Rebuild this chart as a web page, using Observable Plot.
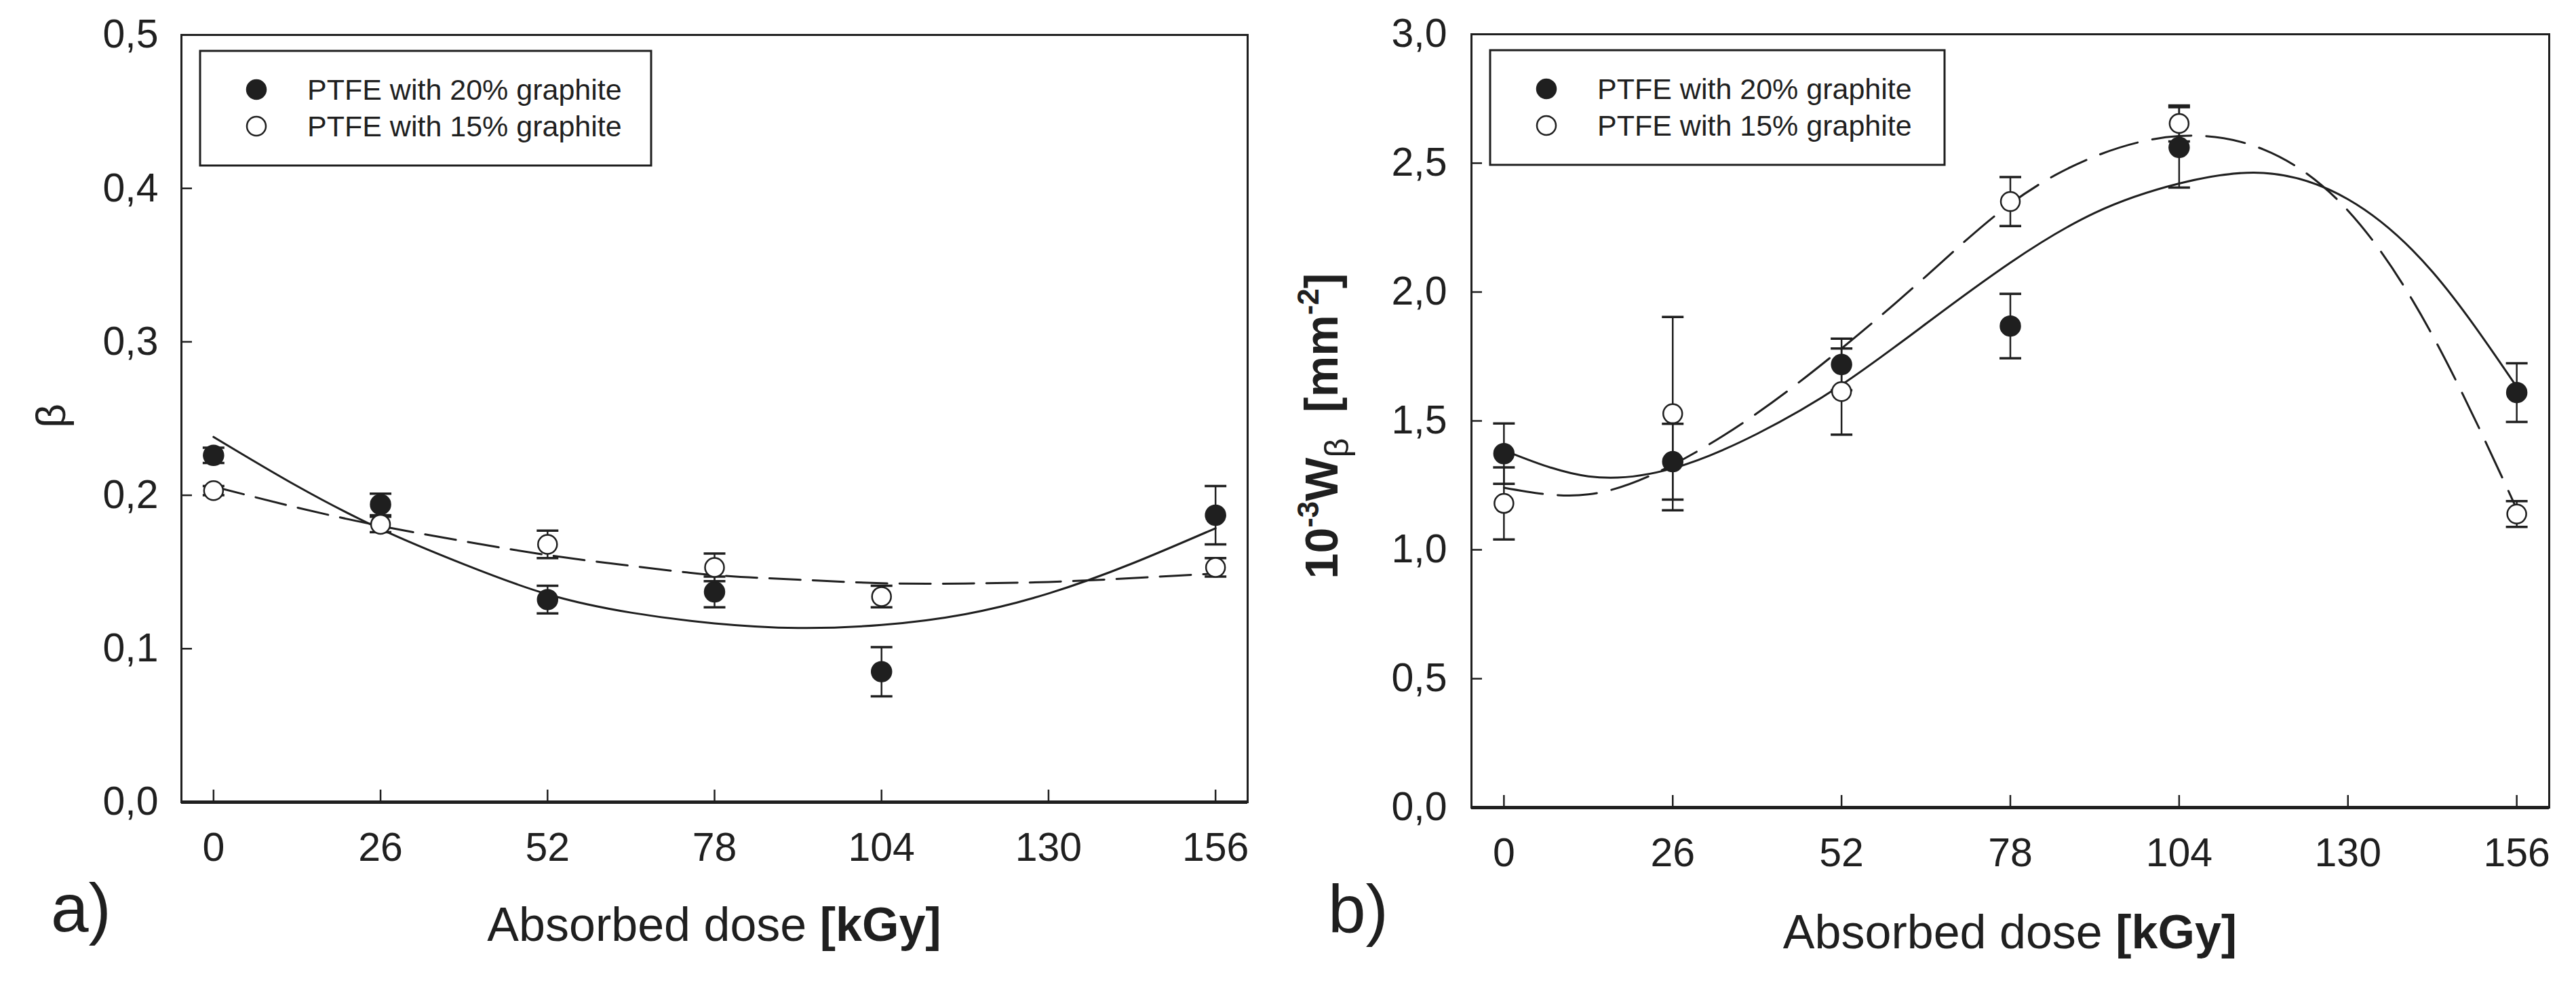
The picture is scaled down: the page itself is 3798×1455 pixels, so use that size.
<!DOCTYPE html>
<html>
<head>
<meta charset="utf-8">
<script src="https://cdn.jsdelivr.net/npm/d3@7"></script>
<script src="https://cdn.jsdelivr.net/npm/@observablehq/plot@0.6"></script>
<style>
  body { margin: 0; background: #fff; }
  #chart { display: flex; width: 3798px; height: 1455px; background: #fff; }
  #chart svg { flex: none; max-width: none; }
</style>
</head>
<body>
<div id="chart"></div>
<script>
// dosis medidas y ticks del eje x
const dose = [0, 26, 52, 78, 104, 156];
const xTicks = [0, 26, 52, 78, 104, 130, 156];

// panel a) beta
const betaG20 = [0.226, 0.194, 0.132, 0.137, 0.085, 0.187];
const betaG20Err = [0.005, 0.007, 0.009, 0.010, 0.016, 0.019];
const betaG15 = [0.203, 0.181, 0.168, 0.153, 0.134, 0.153];
const betaG15Err = [0.003, 0.005, 0.009, 0.009, 0.007, 0.006];
const betaTicks = [0, 0.1, 0.2, 0.3, 0.4, 0.5];

// panel b) 10^-3 W_beta
const wG20 = [1.373, 1.342, 1.719, 1.868, 2.561, 1.610];
const wG20Err = [0.117, 0.147, 0.100, 0.125, 0.156, 0.114];
const wG15 = [1.180, 1.528, 1.614, 2.351, 2.654, 1.139];
const wG15Err = [0.140, 0.375, 0.167, 0.095, 0.070, 0.050];
const wTicks = [0, 0.5, 1, 1.5, 2, 2.5, 3];

// curvas de ajuste
const fitDose = [0, 13, 26, 39, 52, 65, 78, 91, 104, 117, 130, 143, 156];
const fitBetaG20 = [0.238, 0.206, 0.178, 0.155, 0.1355, 0.1235, 0.1165, 0.1135, 0.1155, 0.1225, 0.136, 0.1555, 0.1785];
const fitBetaG15 = [0.2057, 0.192, 0.180, 0.170, 0.161, 0.154, 0.148, 0.145, 0.1427, 0.1425, 0.1435, 0.146, 0.149];
const fitWG20 = [1.386, 1.285, 1.316, 1.45, 1.640, 1.877, 2.114, 2.307, 2.421, 2.462, 2.36, 2.079, 1.632];
const fitWG15 = [1.241, 1.215, 1.33, 1.53, 1.781, 2.061, 2.342, 2.526, 2.605, 2.553, 2.316, 1.833, 1.158];

const legendLabels = ["PTFE with 20% graphite", "PTFE with 15% graphite"];

const ink = "#1f1f1f";
const font = "'Liberation Sans', Arial, sans-serif";

const rows = (xs, vs, es) => xs.map((d, i) => ({dose: d, v: vs[i], e: es ? es[i] : 0}));
const comma = d => d.toFixed(1).replace(".", ",");

// simbolo para los topes de las barras de error
const capSymbol = {
  draw(ctx, size) {
    const w = Math.sqrt(size / Math.PI);
    ctx.moveTo(-w, 0);
    ctx.lineTo(w, 0);
  }
};

function panel(o) {
  const pts20 = rows(dose, o.g20, o.g20Err);
  const pts15 = rows(dose, o.g15, o.g15Err);
  const errMarks = pts => [
    Plot.ruleX(pts, {x: "dose", y1: d => d.v - d.e, y2: d => d.v + d.e, stroke: ink, strokeWidth: 2.5}),
    Plot.dot(pts, {x: "dose", y: d => d.v + d.e, symbol: capSymbol, r: 16, fill: "none", stroke: ink, strokeWidth: 3.5}),
    Plot.dot(pts, {x: "dose", y: d => d.v - d.e, symbol: capSymbol, r: 16, fill: "none", stroke: ink, strokeWidth: 3.5})
  ];

  const chart = Plot.plot({
    width: o.width,
    height: 1455,
    marginLeft: o.ml,
    marginRight: o.mr,
    marginTop: o.mt,
    marginBottom: 1455 - o.bottom,
    style: {fontFamily: font, color: ink, background: "white"},
    x: {domain: [-5, 161], label: null},
    y: {domain: o.yDomain, label: null},
    marks: [
      Plot.line(rows(fitDose, o.fit20), {x: "dose", y: "v", curve: "natural", stroke: ink, strokeWidth: 3}),
      Plot.line(rows(fitDose, o.fit15), {x: "dose", y: "v", curve: "natural", stroke: ink, strokeWidth: 3, strokeDasharray: o.dash}),
      ...errMarks(pts20),
      ...errMarks(pts15),
      Plot.dot(pts20, {x: "dose", y: "v", r: 15, fill: ink, stroke: ink}),
      Plot.dot(pts15, {x: "dose", y: "v", r: 14, fill: "white", stroke: ink, strokeWidth: 2.5}),
      Plot.frame({stroke: ink, strokeWidth: 3}),
      Plot.ruleY([o.yDomain[0]], {stroke: ink, strokeWidth: 5}),
      Plot.axisY(o.yTicks, {anchor: "left", tickSize: -16, text: null, stroke: ink, strokeWidth: 2.5}),
      Plot.axisY(o.yTicks, {anchor: "left", tickSize: 0, tickPadding: o.yPad, fontSize: 59, tickFormat: comma, fill: ink}),
      Plot.axisX(xTicks, {anchor: "bottom", tickSize: -18, text: null, stroke: ink, strokeWidth: 2.5}),
      Plot.axisX(xTicks, {anchor: "bottom", tickSize: 0, tickPadding: 45, fontSize: 59, tickFormat: d => d, fill: ink})
    ]
  });

  const svg = d3.select(chart);
  const frameW = o.width - o.ml - o.mr;
  const cx = o.ml + frameW / 2;

  // leyenda
  const lx = o.ml + 28, ly = o.mt + 24;
  const lg = svg.append("g").attr("font-family", font).attr("font-size", 43)
    .attr("text-anchor", "start").attr("fill", ink);
  lg.append("rect").attr("x", lx).attr("y", ly).attr("width", o.legendW).attr("height", 169)
    .attr("fill", "white").attr("stroke", ink).attr("stroke-width", 3);
  legendLabels.forEach((t, i) => {
    const yy = ly + 57 + i * 54;
    lg.append("circle").attr("cx", lx + 83).attr("cy", yy).attr("r", 14)
      .attr("fill", i === 0 ? ink : "white").attr("stroke", ink).attr("stroke-width", 2.5);
    lg.append("text").attr("x", lx + 158).attr("y", yy).attr("dy", "0.35em").text(t);
  });

  // titulo eje x
  const xt = svg.append("text").attr("x", cx).attr("y", o.xTitleY).attr("text-anchor", "middle")
    .attr("font-family", font).attr("font-size", 70).attr("fill", ink).style("white-space", "pre");
  xt.append("tspan").text("Absorbed dose ");
  xt.append("tspan").attr("font-weight", "bold").text("[kGy]");

  // letra del panel
  svg.append("text").attr("x", o.tagX).attr("y", o.tagY).attr("text-anchor", "start")
    .attr("font-family", font).attr("font-size", 100).attr("fill", ink).text(o.tag);

  o.yTitle(svg);
  return chart;
}

const left = panel({
  width: 1900, ml: 267, mr: 61, mt: 51, bottom: 1182, yPad: 34,
  yDomain: [0, 0.5], yTicks: betaTicks,
  g20: betaG20, g20Err: betaG20Err, g15: betaG15, g15Err: betaG15Err,
  fit20: fitBetaG20, fit15: fitBetaG15, dash: "46,18",
  legendW: 665, xTitleY: 1387, tag: "a)", tagX: 75, tagY: 1373,
  yTitle: svg => {
    svg.append("text").attr("transform", "translate(96,613) rotate(-90)")
      .attr("text-anchor", "middle").attr("font-family", font).attr("font-size", 62)
      .attr("fill", ink).text("β");
  }
});

const right = panel({
  width: 1898, ml: 269, mr: 40, mt: 50, bottom: 1190, yPad: 36,
  yDomain: [0, 3], yTicks: wTicks,
  g20: wG20, g20Err: wG20Err, g15: wG15, g15Err: wG15Err,
  fit20: fitWG20, fit15: fitWG15, dash: "58,22",
  legendW: 670, xTitleY: 1398, tag: "b)", tagX: 58, tagY: 1375,
  yTitle: svg => {
    const t = svg.append("text").attr("transform", "translate(72,628) rotate(-90)")
      .attr("text-anchor", "middle").attr("font-family", font).attr("font-size", 68)
      .attr("font-weight", "bold").attr("fill", ink).style("white-space", "pre");
    t.append("tspan").text("10");
    t.append("tspan").attr("font-size", 44).attr("dy", -28).text("-3");
    t.append("tspan").attr("dy", 28).text("W");
    t.append("tspan").attr("font-size", 50).attr("font-weight", "normal").attr("dy", 16).text("β");
    t.append("tspan").attr("dy", -16).text("  [mm");
    t.append("tspan").attr("font-size", 44).attr("dy", -28).text("-2");
    t.append("tspan").attr("dy", 28).text("]");
  }
});

d3.select("#chart").append(() => left);
d3.select("#chart").append(() => right);
</script>
</body>
</html>
